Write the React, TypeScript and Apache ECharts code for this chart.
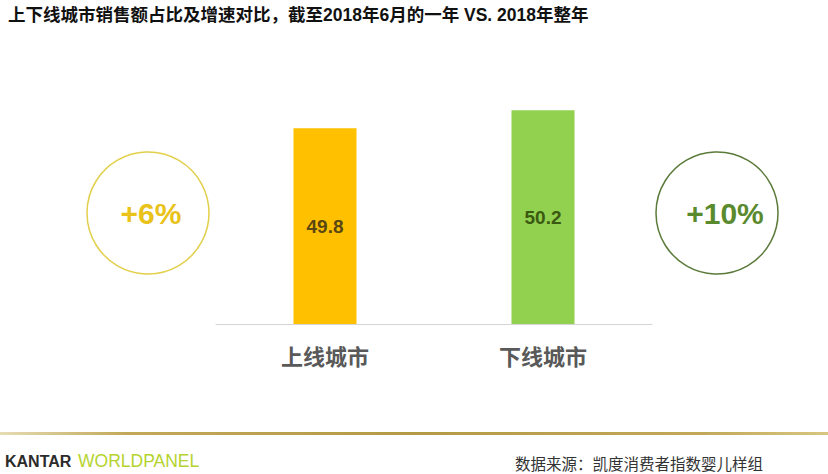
import React, { useEffect, useRef } from "react";
import * as echarts from "echarts";

const titleText = "上下线城市销售额占比及增速对比，截至2018年6月的一年 VS. 2018年整年";
const categories = ["上线城市", "下线城市"];
const shares = [49.8, 50.2];
const growth = ["+6%", "+10%"];
const barColors = ["#FFC000", "#92D050"];
const labelColors = ["#5a4712", "#3a5a12"];
const circleColors = ["#e2cf4a", "#5b7a3a"];
const growthColors = ["#e9c21a", "#5a8a2e"];
const sourceText = "数据来源：凯度消费者指数婴儿样组";

const FONT = "'Liberation Sans', 'Noto Sans CJK SC', sans-serif";

export default function App() {
  const ref = useRef<HTMLDivElement>(null);
  useEffect(() => {
    if (!ref.current) return;
    const chart = echarts.init(ref.current, null, { renderer: "svg" });
    chart.setOption({
      animation: false,
      backgroundColor: "#ffffff",
      grid: { left: 216, right: 176, top: 99, bottom: 150 },
      xAxis: {
        type: "category",
        data: categories,
        axisLine: { show: true, lineStyle: { color: "#d4d4d4", width: 1 } },
        axisTick: { show: false },
        axisLabel: {
          margin: 22,
          fontSize: 22,
          fontWeight: "bold",
          color: "#595959",
          fontFamily: FONT,
        },
      },
      yAxis: {
        type: "value",
        min: 45.45,
        max: 50.45,
        show: false,
        splitLine: { show: false },
      },
      series: [
        {
          type: "bar",
          barWidth: 63,
          data: shares.map((v, i) => ({
            value: v,
            itemStyle: { color: barColors[i] },
            label: {
              show: true,
              position: "inside",
              fontSize: 19,
              fontWeight: "bold",
              color: labelColors[i],
              fontFamily: FONT,
            },
          })),
        },
      ],
      graphic: [
        {
          type: "text",
          left: 8,
          top: 6,
          style: {
            text: titleText,
            fontSize: 17.5,
            fontWeight: "bold",
            fill: "#111111",
            fontFamily: FONT,
          },
        },
        ...growth.flatMap((g, i) => {
          const cx = i === 0 ? 148 : 717;
          const cy = 213;
          return [
            {
              type: "circle",
              shape: { cx, cy, r: 61 },
              style: { fill: "none", stroke: circleColors[i], lineWidth: 1.5 },
            },
            {
              type: "text",
              x: cx + (i === 0 ? 3 : 8),
              y: cy,
              style: {
                text: g,
                fontSize: 30,
                fontWeight: "bold",
                fill: growthColors[i],
                fontFamily: FONT,
                align: "center",
                verticalAlign: "middle",
              },
            },
          ];
        }),
        {
          type: "rect",
          shape: { x: 0, y: 432, width: 828, height: 3 },
          style: {
            fill: new echarts.graphic.LinearGradient(0, 0, 1, 0, [
              { offset: 0, color: "#e6dcb4" },
              { offset: 0.15, color: "#c2a95a" },
              { offset: 0.5, color: "#b39a45" },
              { offset: 0.85, color: "#c2a95a" },
              { offset: 1, color: "#d8c680" },
            ]),
          },
        },
        {
          type: "text",
          x: 5,
          y: 461,
          style: {
            text: "KANTAR",
            fontSize: 16,
            fontWeight: "bold",
            fill: "#2b2b2b",
            fontFamily: "'Liberation Sans', sans-serif",
            verticalAlign: "middle",
          },
        },
        {
          type: "text",
          x: 78,
          y: 461,
          style: {
            text: "WORLDPANEL",
            fontSize: 17.5,
            fontWeight: "normal",
            fill: "#b5d32e",
            fontFamily: "'Liberation Sans', sans-serif",
            verticalAlign: "middle",
          },
        },
        {
          type: "text",
          x: 515,
          y: 463,
          style: {
            text: sourceText,
            fontSize: 15.5,
            fill: "#333333",
            fontFamily: "'Noto Sans CJK SC', sans-serif",
            verticalAlign: "middle",
          },
        },
      ],
    });
    return () => chart.dispose();
  }, []);
  return (
    <div
      ref={ref}
      style={{ position: "fixed", left: 0, top: 0, width: 828, height: 474 }}
    />
  );
}
